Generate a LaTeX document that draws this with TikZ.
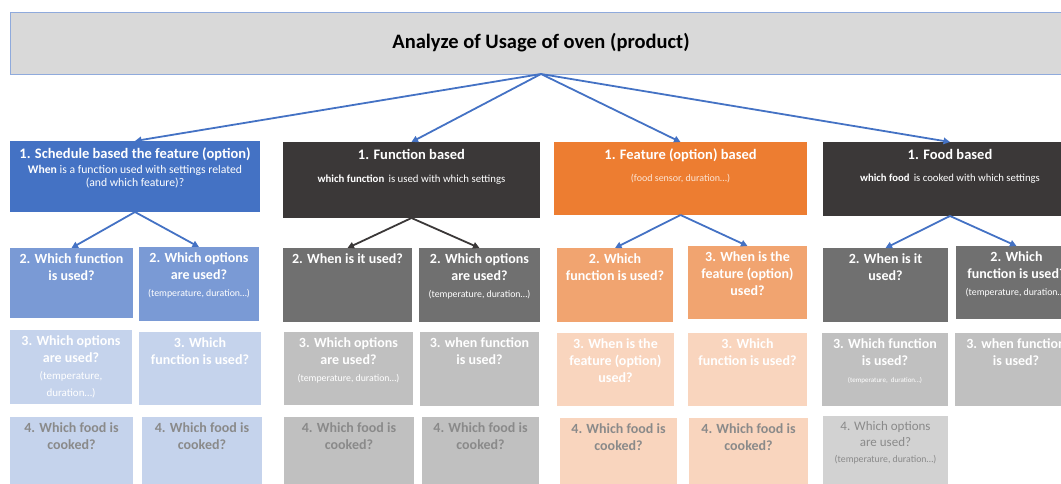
\documentclass[tikz,border=0pt]{standalone}
\usepackage{fontspec}
\setmainfont{Carlito}
\usetikzlibrary{arrows.meta}
\definecolor{OvBlue}{RGB}{68,114,196}
\definecolor{OvBlueMid}{RGB}{122,154,213}
\definecolor{OvBlueLight}{RGB}{197,211,236}
\definecolor{OvDark}{RGB}{59,56,56}
\definecolor{OvGrayMid}{RGB}{112,112,112}
\definecolor{OvGrayLight}{RGB}{192,192,192}
\definecolor{OvGrayPale}{RGB}{210,210,210}
\definecolor{OvOrange}{RGB}{237,125,49}
\definecolor{OvOrangeMid}{RGB}{241,164,112}
\definecolor{OvOrangeLight}{RGB}{249,213,190}
\definecolor{OvFaint}{RGB}{138,138,138}
\definecolor{OvTitle}{RGB}{217,217,217}
\definecolor{OvEdge}{RGB}{143,170,220}
\tikzset{
	cell/.style={rectangle, anchor=north west, inner sep=0pt, outer sep=0pt, align=center, text=white},
	head/.style={anchor=north, yshift=-7pt, inner sep=0pt, align=center, text=white, font=\bfseries\fontsize{14.5}{17}\selectfont},
	ques/.style={anchor=north, yshift=-5pt, inner sep=0pt, align=center, text=white, font=\bfseries\fontsize{14}{17}\selectfont},
	link/.style={-{Triangle[length=6.5pt,width=6.5pt]}, line width=1.8pt, draw=OvBlue},
	darklink/.style={link, draw=OvDark}
}
\newcommand{\smallnote}[1]{{\mdseries\fontsize{9.8}{12}\selectfont #1}}
\newcommand{\tinynote}[1]{{\mdseries\fontsize{7}{10}\selectfont #1}}

\begin{document}
\begin{tikzpicture}[x=1pt, y=-1pt]
	\useasboundingbox (0,0) rectangle (1061,484);
	% title bar
	\node[cell, fill=OvTitle, draw=OvEdge, line width=0.8pt, minimum width=1062pt, minimum height=62pt, text=black, font=\bfseries\fontsize{20.5}{25}\selectfont] (title) at (10,12) {Analyze of Usage of oven (product)};
	% level 1
	\node[cell, fill=OvBlue, minimum width=250pt, minimum height=71pt, font=\fontsize{11.7}{13.5}\selectfont,
		label={[head]north:{1. Schedule based the feature (option)}}] (sched) at (10,141)
		{\textbf{When} is a function used with settings related\\(and which feature)?};
	\node[cell, fill=OvDark, minimum width=257pt, minimum height=76pt, font=\fontsize{10.8}{12}\selectfont,
		label={[head]north:{1. Function based}}] (func) at (283,142)
		{\textbf{which function}\, is used with which settings};
	\node[cell, fill=OvOrange, minimum width=253pt, minimum height=73pt, font=\fontsize{10}{12}\selectfont, text=white!80!OvOrange,
		label={[head]north:{1. Feature (option) based}}] (feat) at (554,142)
		{(food sensor, duration\dots)};
	\node[cell, fill=OvDark, minimum width=254pt, minimum height=74pt, font=\fontsize{10.7}{12}\selectfont,
		label={[head]north:{1. Food based}}] (food) at (823,142)
		{\textbf{which food}\, is cooked with which settings};
	% level 2
	\node[cell, fill=OvBlueMid, minimum width=123pt, minimum height=70pt,
		label={[ques]north:{2. Which function\\is used?}}] (sched-fn) at (10,248) {};
	\node[cell, fill=OvBlueMid, minimum width=120pt, minimum height=74pt,
		label={[ques]north:{2. Which options\\are used?\\\smallnote{(temperature, duration\dots)}}}] (sched-opt) at (139,247) {};
	\node[cell, fill=OvGrayMid, minimum width=129pt, minimum height=74pt,
		label={[ques]north:{2. When is it used?}}] (func-when) at (283,248) {};
	\node[cell, fill=OvGrayMid, minimum width=121pt, minimum height=74pt,
		label={[ques]north:{2. Which options\\are used?\\\smallnote{(temperature, duration\dots)}}}] (func-opt) at (419,248) {};
	\node[cell, fill=OvOrangeMid, minimum width=116pt, minimum height=74pt,
		label={[ques]north:{2. Which\\function is used?}}] (feat-fn) at (557,248) {};
	\node[cell, fill=OvOrangeMid, minimum width=119pt, minimum height=73pt,
		label={[ques]north:{3. When is the\\feature (option)\\used?}}] (feat-when) at (688,246) {};
	\node[cell, fill=OvGrayMid, minimum width=125pt, minimum height=74pt,
		label={[ques]north:{2. When is it\\used?}}] (food-when) at (823,248) {};
	\node[cell, fill=OvGrayMid, minimum width=121pt, minimum height=73pt,
		label={[ques]north:{2. Which\\function is used?\\\smallnote{(temperature, duration\dots)}}}] (food-fn) at (956,246) {};
	% level 3
	\node[cell, fill=OvBlueLight, minimum width=122pt, minimum height=74pt,
		label={[ques]north:{3. Which options\\are used?\\{\mdseries\fontsize{11}{14}\selectfont (temperature,}\\{\mdseries\fontsize{11}{14}\selectfont duration\dots)}}}] (sched-opt3) at (10,330) {};
	\node[cell, fill=OvBlueLight, minimum width=122pt, minimum height=73pt,
		label={[ques]north:{3. Which\\function is used?}}] (sched-fn3) at (139,332) {};
	\node[cell, fill=OvGrayLight, minimum width=129pt, minimum height=73pt,
		label={[ques]north:{3. Which options\\are used?\\\smallnote{(temperature, duration\dots)}}}] (func-opt3) at (284,332) {};
	\node[cell, fill=OvGrayLight, minimum width=119pt, minimum height=74pt,
		label={[ques]north:{3. when function\\is used?}}] (func-when3) at (420,332) {};
	\node[cell, fill=OvOrangeLight, minimum width=117pt, minimum height=73pt,
		label={[ques]north:{3. When is the\\feature (option)\\used?}}] (feat-when3) at (557,333) {};
	\node[cell, fill=OvOrangeLight, minimum width=119pt, minimum height=73pt,
		label={[ques]north:{3. Which\\function is used?}}] (feat-fn3) at (688,333) {};
	\node[cell, fill=OvGrayLight, minimum width=126pt, minimum height=73pt,
		label={[ques]north:{3. Which function\\is used?\\\tinynote{(temperature,\ \ duration\dots)}}}] (food-fn3) at (822,333) {};
	\node[cell, fill=OvGrayLight, minimum width=122pt, minimum height=73pt,
		label={[ques]north:{3. when function\\is used?}}] (food-when3) at (955,333) {};
	% level 4
	\node[cell, fill=OvBlueLight, minimum width=123pt, minimum height=70pt,
		label={[ques, text=OvFaint]north:{4. Which food is\\cooked?}}] (sched-food) at (10,417) {};
	\node[cell, fill=OvBlueLight, minimum width=120pt, minimum height=70pt,
		label={[ques, text=OvFaint]north:{4. Which food is\\cooked?}}] (sched-food2) at (142,417) {};
	\node[cell, fill=OvGrayLight, minimum width=130pt, minimum height=70pt,
		label={[ques, text=OvFaint]north:{4. Which food is\\cooked?}}] (func-food) at (284,417) {};
	\node[cell, fill=OvGrayLight, minimum width=117pt, minimum height=70pt,
		label={[ques, text=OvFaint]north:{4. Which food is\\cooked?}}] (func-food2) at (422,417) {};
	\node[cell, fill=OvOrangeLight, minimum width=117pt, minimum height=70pt,
		label={[ques, text=OvFaint]north:{4. Which food is\\cooked?}}] (feat-food) at (560,418) {};
	\node[cell, fill=OvOrangeLight, minimum width=119pt, minimum height=70pt,
		label={[ques, text=OvFaint]north:{4. Which food is\\cooked?}}] (feat-food2) at (689,418) {};
	\node[cell, fill=OvGrayPale, minimum width=125pt, minimum height=72pt,
		label={[ques, text=OvFaint, font=\mdseries\fontsize{13}{16}\selectfont]north:{4. Which options\\are used?\\\smallnote{(temperature, duration\dots)}}}] (food-opt) at (823,416) {};
	% connectors
	\foreach \n in {sched,func,feat,food}
		\draw[link] (title.south) -- (\n.north);
	\draw[link] (sched.south) -- (sched-fn.north);
	\draw[link] (sched.south) -- (sched-opt.north);
	\draw[darklink] (func.south) -- (func-when.north);
	\draw[darklink] (func.south) -- (func-opt.north);
	\draw[link] (feat.south) -- (feat-fn.north);
	\draw[link] (feat.south) -- (feat-when.north);
	\draw[link] (food.south) -- (food-when.north);
	\draw[link] (food.south) -- (food-fn.north);
\end{tikzpicture}
\end{document}
